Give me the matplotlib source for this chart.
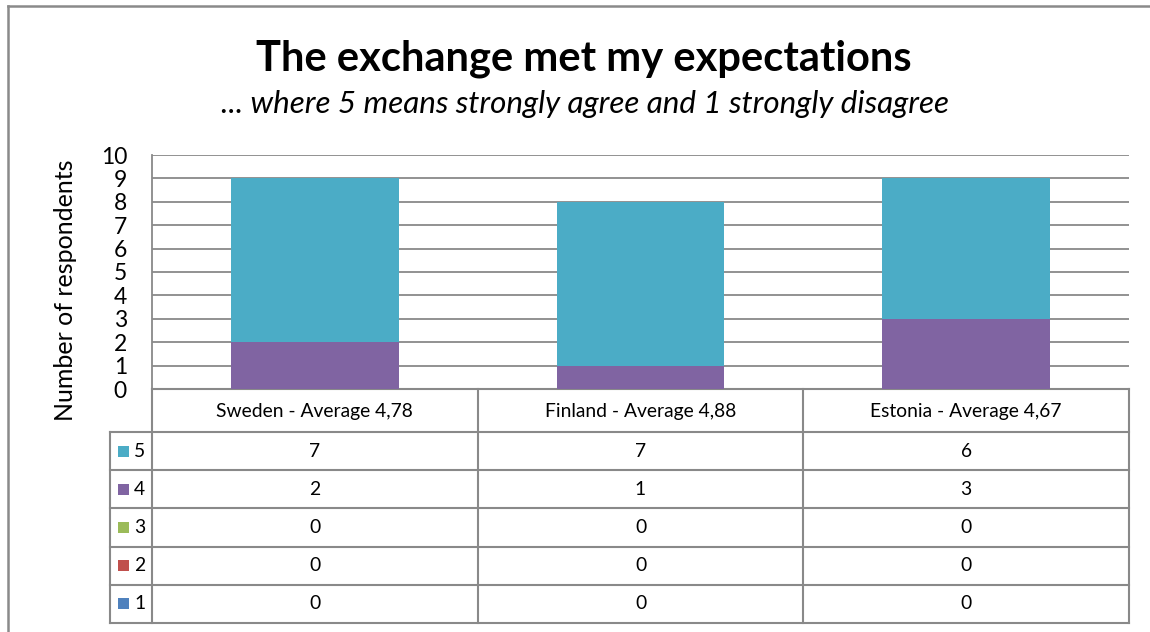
import matplotlib
matplotlib.use('Agg')
import matplotlib.pyplot as plt
from matplotlib.patches import Rectangle

# ---- data ----
categories = ["Sweden - Average 4,78", "Finland - Average 4,88", "Estonia - Average 4,67"]
series_names = ["5", "4", "3", "2", "1"]
s5 = [7, 7, 6]
s4 = [2, 1, 3]
s3 = [0, 0, 0]
s2 = [0, 0, 0]
s1 = [0, 0, 0]
series_values = {"5": s5, "4": s4, "3": s3, "2": s2, "1": s1}
series_colors = {"5": "#4BACC6", "4": "#8064A2", "3": "#9BBB59", "2": "#C0504D", "1": "#4F81BD"}
yticks = list(range(0, 11))

title = "The exchange met my expectations"
subtitle = "... where 5 means strongly agree and 1 strongly disagree"
ylabel = "Number of respondents"

plt.rcParams['font.family'] = ['Lato', 'DejaVu Sans']

W, H = 1150, 632
fig = plt.figure(figsize=(W / 100, H / 100), dpi=100)
fig.patch.set_facecolor('white')

def fx(px):
    return px / W

def fy(py):
    return 1 - py / H

GRID = '#898989'

# overlay axes in pixel coordinates (y downward)
ov = fig.add_axes([0, 0, 1, 1], zorder=0)
ov.set_xlim(0, W)
ov.set_ylim(H, 0)
ov.axis('off')

# main chart axes
plot_l, plot_r, plot_t, plot_b = 152, 1129, 155, 389
ax = fig.add_axes([fx(plot_l), fy(plot_b), fx(plot_r) - fx(plot_l), fy(plot_t) - fy(plot_b)], zorder=1)
ax.patch.set_alpha(0)
x = list(range(len(categories)))
bottom = [0] * len(categories)
for name in ["1", "2", "3", "4", "5"]:
    vals = series_values[name]
    ax.bar(x, vals, width=0.515, bottom=bottom, color=series_colors[name], zorder=3, linewidth=0)
    bottom = [b + v for b, v in zip(bottom, vals)]
ax.set_xlim(-0.5, len(categories) - 0.5)
ax.set_ylim(0, 10)
ax.set_yticks(yticks)
ax.set_yticklabels([str(t) for t in yticks])
ax.set_xticks([])
ax.yaxis.grid(True, color=GRID, linewidth=1.3)
ax.set_axisbelow(True)
for s in ['top', 'right', 'bottom']:
    ax.spines[s].set_visible(False)
ax.spines['left'].set_color(GRID)
ax.spines['left'].set_linewidth(1.3)
ax.tick_params(axis='y', length=0, pad=18, labelsize=16.5)

# table geometry from axes transform
fig.canvas.draw()
col_edges = []
for xv in [i - 0.5 for i in range(len(categories) + 1)]:
    dx, dy = ax.transData.transform((xv, 0))
    col_edges.append(dx)
_, y0disp = ax.transData.transform((0, 0))
tab_top = H - y0disp
head_h = 43
row_h = 38.2
leg_l = 110
row_edges = [tab_top, tab_top + head_h] + [tab_top + head_h + row_h * (i + 1) for i in range(len(series_names))]
tab_bot = row_edges[-1]

lw = 1.5
# horizontal lines
ov.plot([col_edges[0], col_edges[-1]], [row_edges[0]] * 2, color=GRID, lw=lw)
for ry in row_edges[1:]:
    ov.plot([leg_l, col_edges[-1]], [ry, ry], color=GRID, lw=lw)
# vertical lines
for cx in col_edges:
    ov.plot([cx, cx], [row_edges[0], tab_bot], color=GRID, lw=lw)
ov.plot([leg_l, leg_l], [row_edges[1], tab_bot], color=GRID, lw=lw)

FS = 13.9
# header texts
for i, cat in enumerate(categories):
    cx = (col_edges[i] + col_edges[i + 1]) / 2
    ov.text(cx, (row_edges[0] + row_edges[1]) / 2 + 1, cat, ha='center', va='center', fontsize=FS, color='black')

# rows
for r, name in enumerate(series_names):
    ry = (row_edges[r + 1] + row_edges[r + 2]) / 2
    ov.add_patch(Rectangle((118, ry - 5.5), 11, 11, color=series_colors[name], lw=0))
    ov.text(134, ry, name, ha='left', va='center', fontsize=FS, color='black')
    for i in range(len(categories)):
        cx = (col_edges[i] + col_edges[i + 1]) / 2
        ov.text(cx, ry, str(series_values[name][i]), ha='center', va='center', fontsize=FS, color='black')

# titles
ov.text(584, 70, title, ha='center', va='baseline', fontsize=30, fontweight='bold', color='black')
ov.text(585, 113, subtitle, ha='center', va='baseline', fontsize=22.6, style='italic', color='black')
ov.text(66, 290, ylabel, ha='center', va='center', rotation=90, fontsize=18, color='black')

# outer border (left and top)
ov.plot([8, 8], [H + 5, 6], color='#8a8a8a', lw=1.8)
ov.plot([8, W + 5], [6, 6], color='#8a8a8a', lw=1.8)

fig.savefig('out.png', dpi=100, facecolor='white')
